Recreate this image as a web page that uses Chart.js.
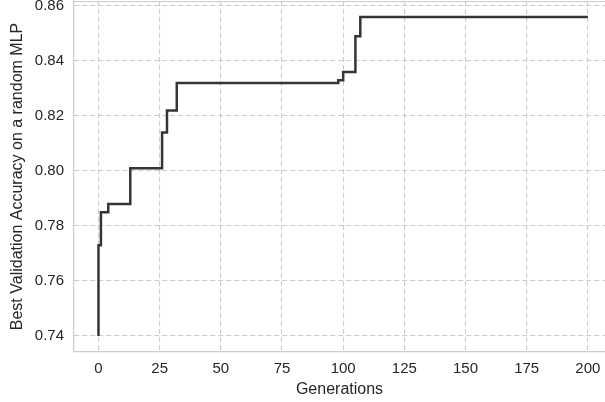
<!DOCTYPE html>
<html lang="en">
<head>
    <meta charset="UTF-8">
    <title>Best Validation Accuracy</title>
    <style>
        html, body {
            margin: 0;
            padding: 0;
            background: #ffffff;
            overflow: hidden;
        }
        #wrap {
            width: 605px;
            height: 402px;
        }
    </style>
    <script src="https://cdn.jsdelivr.net/npm/chart.js"></script>
</head>
<body>
    <div id="wrap"><canvas id="accChart"></canvas></div>
    <script>
        // generation at which the best accuracy improved
        const generations = [0, 0, 1, 4, 13, 26, 28, 32, 98, 100, 105, 107, 200];
        const bestAccuracy = [0.740, 0.773, 0.785, 0.788, 0.801, 0.814, 0.822, 0.832, 0.833, 0.836, 0.849, 0.856, 0.856];

        const xTicks = [0, 25, 50, 75, 100, 125, 150, 175, 200];
        const yTicks = [0.74, 0.76, 0.78, 0.80, 0.82, 0.84, 0.86];

        const points = generations.map((g, i) => ({ x: g, y: bestAccuracy[i] }));

        const textColor = '#262626';
        const gridColor = '#cccccc';
        const fontFamily = '"Liberation Sans", Arial, sans-serif';

        // seaborn-like frame (top spine)
        const framePlugin = {
            id: 'frame',
            beforeDatasetsDraw(chart) {
                const { ctx, chartArea } = chart;
                ctx.save();
                ctx.strokeStyle = gridColor;
                ctx.lineWidth = 1.2;
                ctx.beginPath();
                ctx.moveTo(chartArea.left, chartArea.top + 0.5);
                ctx.lineTo(chartArea.right, chartArea.top + 0.5);
                ctx.stroke();
                ctx.restore();
            }
        };

        new Chart(document.getElementById('accChart'), {
            type: 'line',
            data: {
                datasets: [{
                    data: points,
                    stepped: 'before',
                    borderColor: '#353535',
                    borderWidth: 2.5,
                    pointRadius: 0,
                    fill: false
                }]
            },
            options: {
                responsive: true,
                maintainAspectRatio: false,
                animation: false,
                layout: { padding: { top: 1, right: 0, bottom: 0, left: 0 } },
                plugins: {
                    legend: { display: false },
                    tooltip: { enabled: false }
                },
                scales: {
                    x: {
                        type: 'linear',
                        min: -10,
                        max: 207,
                        afterBuildTicks: axis => { axis.ticks = xTicks.map(v => ({ value: v })); },
                        afterFit: axis => {
                            axis.height = 50;
                            axis.paddingLeft = 0;
                            axis.paddingRight = 0;
                        },
                        grid: {
                            color: gridColor,
                            lineWidth: 1.1,
                            drawTicks: false
                        },
                        border: { color: gridColor, width: 1.2, dash: [5, 3] },
                        ticks: {
                            color: textColor,
                            padding: 8,
                            maxRotation: 0,
                            font: { family: fontFamily, size: 15 }
                        },
                        title: {
                            display: true,
                            text: 'Generations',
                            color: textColor,
                            font: { family: fontFamily, size: 16 },
                            padding: { top: 0, bottom: 3 }
                        }
                    },
                    y: {
                        type: 'linear',
                        min: 0.7342,
                        max: 0.8618,
                        afterBuildTicks: axis => { axis.ticks = yTicks.map(v => ({ value: v })); },
                        afterFit: axis => {
                            axis.width = 74;
                            axis.paddingTop = 0;
                            axis.paddingBottom = 0;
                        },
                        grid: {
                            color: gridColor,
                            lineWidth: 1.1,
                            drawTicks: false
                        },
                        border: { color: gridColor, width: 1.2, dash: [5, 3] },
                        ticks: {
                            color: textColor,
                            padding: 10,
                            font: { family: fontFamily, size: 15 },
                            callback: v => v.toFixed(2)
                        },
                        title: {
                            display: true,
                            text: 'Best Validation Accuracy on a random MLP',
                            color: textColor,
                            font: { family: fontFamily, size: 16 },
                            padding: { top: 8, bottom: 0 }
                        }
                    }
                }
            },
            plugins: [framePlugin]
        });
    </script>
</body>
</html>
